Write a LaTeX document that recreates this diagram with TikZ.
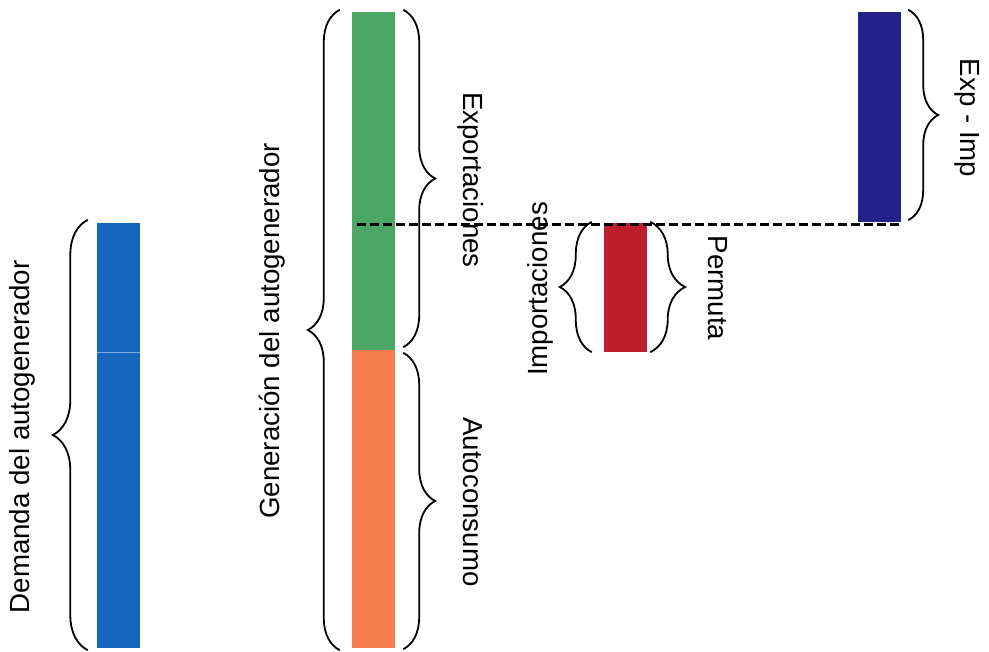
\documentclass[tikz,border=0pt]{standalone}
\usepackage{fontspec}
\setmainfont{Liberation Sans}
\usetikzlibrary{decorations.pathreplacing}
\definecolor{cblue}{HTML}{1766BE}
\definecolor{cgreen}{HTML}{4CA665}
\definecolor{corange}{HTML}{F67D50}
\definecolor{cred}{HTML}{BE1E2D}
\definecolor{cnavy}{HTML}{23208A}
\begin{document}
\begin{tikzpicture}[x=1pt,y=-1pt,
  bar/.style={rectangle,draw=none,inner sep=0pt,minimum width=43pt},
  lbl/.style={inner sep=0pt,font=\fontsize{27.7}{33}\selectfont},
  brc/.style={decorate,decoration={brace,amplitude=#1},line width=1.8pt},
  brc/.default=32pt,
  dashline/.style={line width=3pt,dash pattern=on 8.5pt off 4.5pt}]
\useasboundingbox (0,0) rectangle (989,652);
% bars
\node[bar,fill=cblue,minimum height=425pt] (blue) at (118.5,435.5) {};
\node[bar,fill=cgreen,minimum height=338pt] (green) at (373.5,181) {};
\node[bar,fill=corange,minimum height=298pt] (orange) at (373.5,499) {};
\node[bar,fill=cred,minimum height=129pt] (red) at (625.5,287.5) {};
\node[bar,fill=cnavy,minimum height=210pt] (navy) at (879.5,117) {};
% faint seam in blue bar
\coordinate (seam) at (0,352);
\draw[cblue!55!white,line width=0.8pt] (blue.west |- seam) -- (blue.east |- seam);
% dashed line
\coordinate (dstart) at (357,225);
\draw[dashline] (dstart) -- (navy.south east |- dstart);
% braces
\draw[brc=35pt] ([xshift=-9pt,yshift=-2pt]blue.south west) -- ([xshift=-9pt,yshift=3pt]blue.north west);
\draw[brc] ([xshift=-12pt,yshift=-2pt]orange.south west) -- ([xshift=-12pt,yshift=2pt]green.north west);
\draw[brc] ([xshift=8pt,yshift=2pt]green.north east) -- ([xshift=8pt,yshift=3pt]green.south east);
\draw[brc] ([xshift=8pt,yshift=-3pt]orange.north east) -- ([xshift=8pt,yshift=-1pt]orange.south east);
\draw[brc] ([xshift=-12pt]red.south west) -- ([xshift=-12pt,yshift=1pt]red.north west);
\draw[brc=35pt] ([xshift=3pt,yshift=1pt]red.north east) -- ([xshift=3pt]red.south east);
\draw[brc=30pt] ([xshift=7pt,yshift=2pt]navy.north east) -- ([xshift=7pt,yshift=2pt]navy.south east);
% labels
\node[lbl,rotate=90] (tdem) at (22,437) {Demanda del autogenerador};
\node[lbl,rotate=90] (tgen) at (272,331) {Generación del autogenerador};
\node[lbl,rotate=-90] (texp) at (471,180) {Exportaciones};
\node[lbl,rotate=-90] (tauto) at (473,502) {Autoconsumo};
\node[lbl,rotate=90] (timp) at (540,289) {Importaciones};
\node[lbl,rotate=-90] (tperm) at (718,288) {Permuta};
\node[lbl,rotate=-90] (texi) at (967,118) {Exp - Imp};
\end{tikzpicture}
\end{document}
